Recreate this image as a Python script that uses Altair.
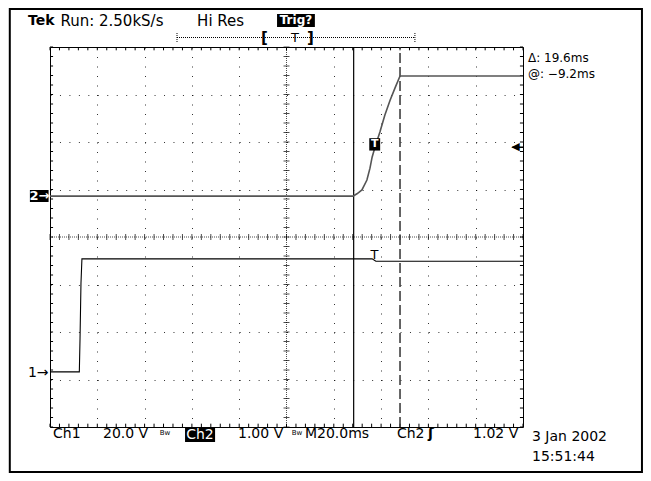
import altair as alt
import pandas as pd

# ---- traces (time in ms relative to screen centre, vertical in screen divisions) ----
ch2_t = [-100, 28.1, 29.8, 31.9, 34.0, 35.3, 36.2, 37.4, 39.5, 41.6, 43.8, 45.9, 48.0, 100]
ch2_v = [0.86, 0.86, 0.91, 0.99, 1.20, 1.45, 1.68, 1.89, 2.21, 2.57, 2.88, 3.14, 3.39, 3.39]
ch1_t = [-100, -87.6, -87.3, -86.9, -86.5, 36.2, 37.8, 100]
ch1_v = [-2.84, -2.84, -2.13, -0.97, -0.46, -0.46, -0.51, -0.51]
cursor_solid = [28.4]
cursor_dash = [48.0]

# structural grid positions (10 x 8 divisions, 5 minor per division)
major_x = [-80, -60, -40, -20, 20, 40, 60, 80]
major_y = [-3, -2, -1, 1, 2, 3]
minor_x = [-100 + 4 * i for i in range(51)]
minor_y = [-4 + 0.2 * j for j in range(41)]

xs = alt.Scale(domain=[-100, 100], nice=False, zero=False)
ys = alt.Scale(domain=[-4, 4], nice=False, zero=False)
AX = alt.Axis(values=major_x, grid=True, gridDash=[1, 8.5], gridColor="#000", gridOpacity=0.8,
              labels=False, ticks=False, domain=False, title=None)
AY = alt.Axis(values=major_y, grid=True, gridDash=[1, 8.46], gridColor="#000", gridOpacity=0.8,
              labels=False, ticks=False, domain=False, title=None)


def X(f="x"):
    return alt.X(f"{f}:Q", scale=xs, axis=AX)


def Y(f="y"):
    return alt.Y(f"{f}:Q", scale=ys, axis=AY)


FONT = "DejaVu Sans"
layers = []

# outer frame
frame = pd.DataFrame({"x": [-117.0], "x2": [150.3], "y": [4.80], "y2": [-4.947]})
layers.append(alt.Chart(frame).mark_rect(fill=None, stroke="#000", strokeWidth=2).encode(
    x=X(), x2="x2:Q", y=Y(), y2="y2:Q"))

# centre lines (dense dotted)
layers.append(alt.Chart(pd.DataFrame({"x": [0], "y": [-4], "y2": [4]})).mark_rule(
    color="#000", strokeDash=[1, 1], opacity=0.7).encode(x=X(), y=Y(), y2="y2:Q"))
layers.append(alt.Chart(pd.DataFrame({"x": [-100], "x2": [100], "y": [0]})).mark_rule(
    color="#000", strokeDash=[1, 1], opacity=0.7).encode(x=X(), x2="x2:Q", y=Y()))

# minor ticks on centre lines
layers.append(alt.Chart(pd.DataFrame({"x": [0] * len(minor_y), "y": minor_y})).mark_tick(
    orient="horizontal", size=6, thickness=1, color="#000", opacity=0.7).encode(x=X(), y=Y()))
layers.append(alt.Chart(pd.DataFrame({"x": minor_x, "y": [0] * len(minor_x)})).mark_tick(
    orient="vertical", size=6, thickness=1, color="#000", opacity=0.7).encode(x=X(), y=Y()))

# edge ticks
edge_rows = []
for v in minor_x:
    edge_rows.append({"x": v, "x2": v, "y": -4, "y2": -3.93})
    edge_rows.append({"x": v, "x2": v, "y": 4, "y2": 3.93})
for v in minor_y:
    edge_rows.append({"x": -100, "x2": -98.7, "y": v, "y2": v})
    edge_rows.append({"x": 100, "x2": 98.7, "y": v, "y2": v})
layers.append(alt.Chart(pd.DataFrame(edge_rows)).mark_rule(color="#000", strokeWidth=1).encode(
    x=X(), x2="x2:Q", y=Y(), y2="y2:Q"))

# cursors
layers.append(alt.Chart(pd.DataFrame({"x": cursor_solid, "y": [-4], "y2": [4]})).mark_rule(
    color="#000", strokeWidth=1.2).encode(x=X(), y=Y(), y2="y2:Q"))
layers.append(alt.Chart(pd.DataFrame({"x": cursor_dash, "y": [-4], "y2": [4]})).mark_rule(
    color="#333", strokeWidth=1.5, strokeDash=[10, 4]).encode(x=X(), y=Y(), y2="y2:Q"))

# traces
ch2 = pd.DataFrame({"x": ch2_t, "y": ch2_v, "o": list(range(len(ch2_t)))})
ch1 = pd.DataFrame({"x": ch1_t, "y": ch1_v, "o": list(range(len(ch1_t)))})
layers.append(alt.Chart(ch2).mark_line(color="#555", strokeWidth=1.6).encode(
    x=X(), y=Y(), order="o:Q"))
layers.append(alt.Chart(ch1).mark_line(color="#000", strokeWidth=1.1).encode(
    x=X(), y=Y(), order="o:Q"))

# black boxes (inverse labels)
boxes = pd.DataFrame({
    "x": [-108.5, -42.9, -4.0, 35.0],
    "x2": [-100.6, -30.2, 12.0, 39.6],
    "y": [0.99, -4.02, 4.695, 2.08],
    "y2": [0.737, -4.316, 4.42, 1.82],
})
layers.append(alt.Chart(boxes).mark_rect(color="#000").encode(
    x=X(), x2="x2:Q", y=Y(), y2="y2:Q"))

# trigger position bar at top
layers.append(alt.Chart(pd.DataFrame({"x": [-46.3], "x2": [54.3], "y": [4.2]})).mark_rule(
    color="#000", strokeDash=[1, 1]).encode(x=X(), x2="x2:Q", y=Y()))
layers.append(alt.Chart(pd.DataFrame({"x": [-46.3, 54.3], "y": [4.105, 4.105], "y2": [4.316, 4.316]})).mark_rule(
    color="#000", strokeDash=[1, 1]).encode(x=X(), y=Y(), y2="y2:Q"))


def text_layer(rows, **kw):
    df = pd.DataFrame(rows, columns=["x", "y", "t"])
    base = dict(font=FONT, fontSize=14, baseline="middle", align="left", color="#000")
    base.update(kw)
    return alt.Chart(df).mark_text(**base).encode(x=X(), y=Y(), text="t:N")


# header
layers.append(text_layer([[-109.3, 4.547, "Tek"]], fontWeight="bold", fontSize=14))
layers.append(text_layer([[-95.6, 4.547, "Run: 2.50kS/s"], [-37.8, 4.547, "Hi Res"]], fontSize=15))
layers.append(text_layer([[4.0, 4.558, "Trig?"]], fontWeight="bold", fontSize=12, color="#fff", align="center"))
layers.append(text_layer([[-9.3, 4.18, "["], [10.1, 4.18, "]"]], fontWeight="bold", fontSize=15, align="center"))
layers.append(text_layer([[3.6, 4.2, "T"]], fontSize=13, align="center"))

# left reference markers
layers.append(text_layer([[-104.5, 0.863, "2→"]], fontWeight="bold", fontSize=13, color="#fff", align="center"))
layers.append(text_layer([[-100.6, -2.86, "1→"]], fontSize=14, align="right"))

# trigger level markers
layers.append(text_layer([[37.3, 1.95, "T"]], fontWeight="bold", fontSize=11, color="#fff", align="center"))
layers.append(text_layer([[37.2, -0.38, "T"]], fontSize=13, align="center"))
layers.append(text_layer([[98.6, 1.89, "◀"]], fontSize=11, align="right"))
layers.append(alt.Chart(pd.DataFrame({"x": [95.5], "x2": [100], "y": [1.89]})).mark_rule(
    color="#000", strokeWidth=1.5).encode(x=X(), x2="x2:Q", y=Y()))

# cursor readout
layers.append(text_layer([[102.1, 3.76, "Δ: 19.6ms"], [102.1, 3.44, "@: −9.2ms"]], fontSize=12))

# bottom status line
layers.append(text_layer([
    [-98.7, -4.147, "Ch1"],
    [-77.6, -4.147, "20.0 V"],
    [-20.5, -4.147, "1.00 V"],
    [7.8, -4.147, "M20.0ms"],
    [46.7, -4.147, "Ch2"],
    [78.9, -4.147, "1.02 V"],
], fontSize=14))
layers.append(text_layer([[-36.6, -4.16, "Ch2"]], fontSize=14, color="#fff", align="center"))
layers.append(text_layer([[-51.4, -4.12, "Bw"], [4.4, -4.12, "Bw"]], fontSize=7, align="center"))
layers.append(text_layer([[61.1, -4.147, "ʃ"]], fontSize=14, fontWeight="bold", align="center"))
layers.append(text_layer([[103.8, -4.21, "3 Jan 2002"], [103.8, -4.63, "15:51:44"]], fontSize=14))

chart = alt.layer(*layers).properties(
    width=473, height=380,
    autosize=alt.AutoSizeParams(type="none"),
    padding={"left": 42, "top": 39, "right": 120, "bottom": 46},
    background="#fff",
).configure_view(stroke="#000", strokeWidth=1)

chart.save("out.html", embed_options={"renderer": "svg", "actions": False})
